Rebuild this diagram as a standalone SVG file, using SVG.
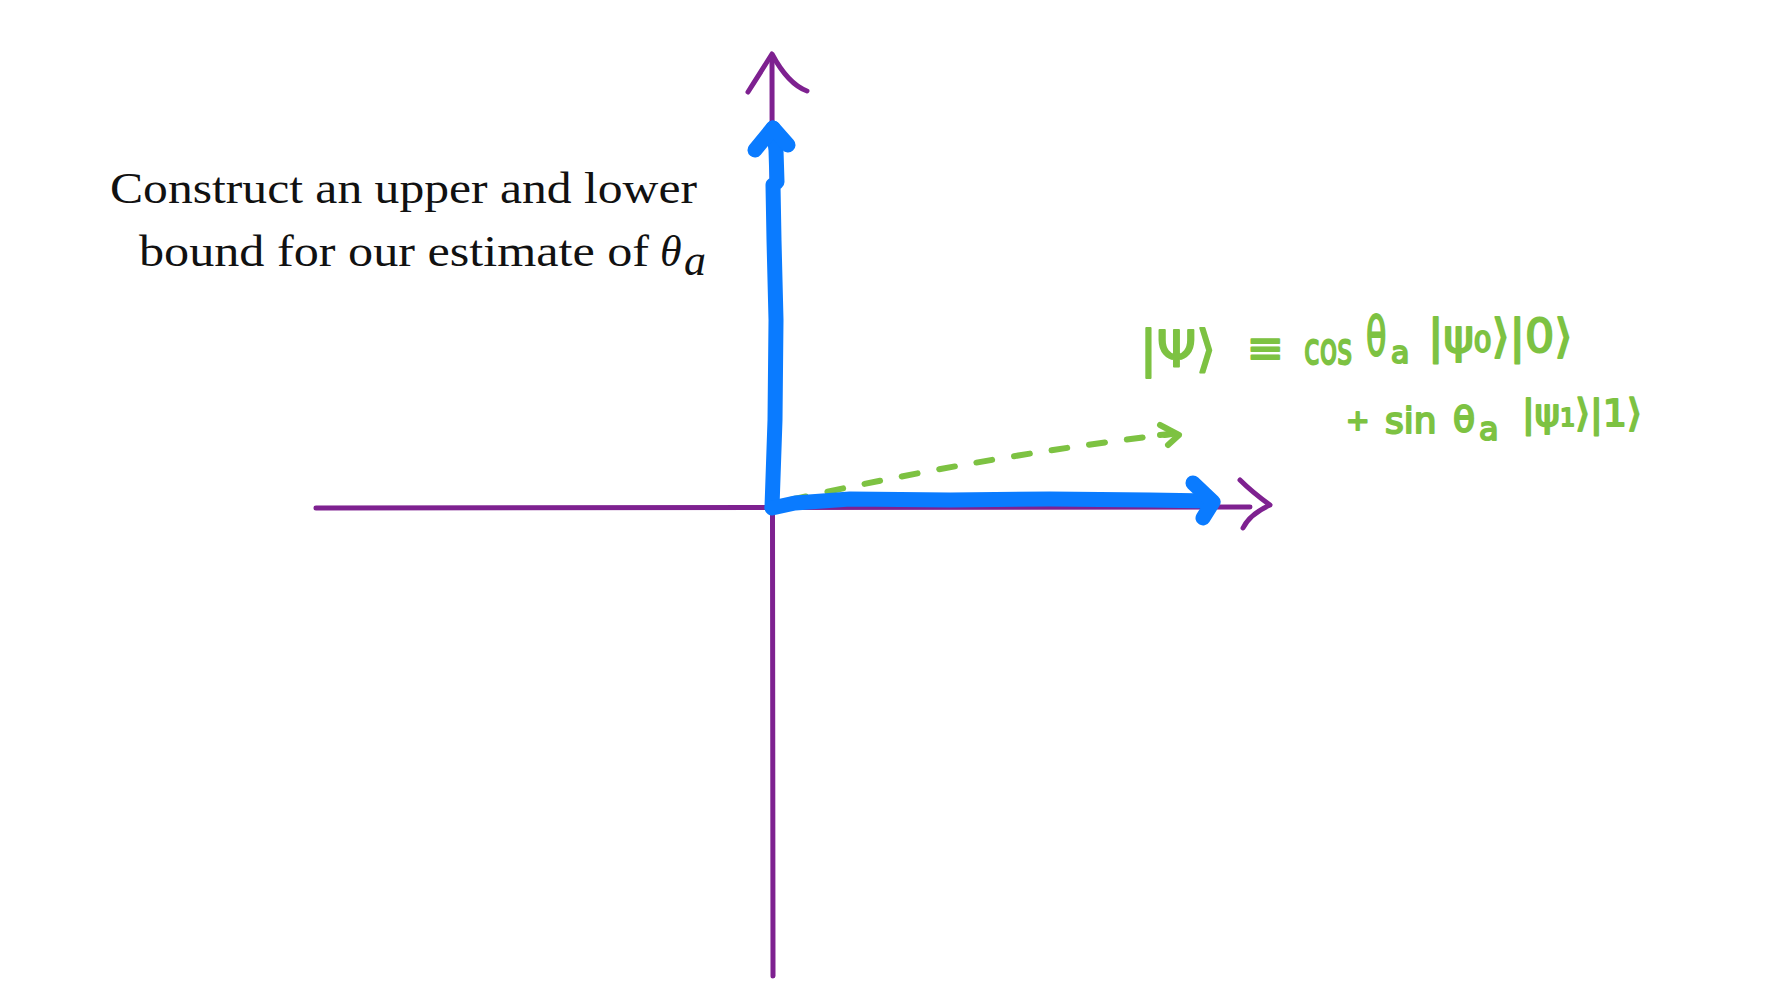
<svg xmlns="http://www.w3.org/2000/svg" width="1790" height="1000" viewBox="0 0 1790 1000">
<style>
.axis{fill:none;stroke:#7E2190;stroke-width:5;stroke-linecap:round;stroke-linejoin:round}
.blue{fill:none;stroke:#0A7BFF;stroke-width:15;stroke-linecap:round;stroke-linejoin:round}
.green{fill:none;stroke:#7DC242;stroke-width:6;stroke-linecap:round;stroke-linejoin:round}
.cap{font-family:"Liberation Serif","DejaVu Serif",serif;font-size:44px;fill:#111}
.hand{font-family:"DejaVu Sans","Noto Sans",sans-serif;fill:#7DC242;stroke:#7DC242;stroke-width:2;stroke-linejoin:round}
</style>
<rect width="1790" height="1000" fill="#ffffff"/>
<g id="connectors">
  <g id="y-axis">
    <path class="axis" d="M773,976 L772,56"/>
    <path class="axis" d="M748,92 Q762,70 772,54 Q788,84 807,91"/>
  </g>
  <g id="x-axis">
    <path class="axis" d="M316,508 L1250,507"/>
    <path class="axis" d="M1240,480 Q1252,492 1270,505 Q1250,514 1243,528"/>
  </g>
  <g id="state-vector">
    <path class="green" d="M790,500 Q990,455 1172,434" stroke-dasharray="16,22"/>
    <path class="green" d="M1160,425 L1179,435 L1168,445"/>
    <path class="green" d="M1160,435 L1170,434"/>
  </g>
  <g id="blue-vertical">
    <path class="blue" d="M772,507 L775,420 L776,320 L774,240 L773,185 L777,182 L776,150 L773,128"/>
    <path class="blue" d="M755,150 L773,128 L788,145"/>
  </g>
  <g id="blue-horizontal">
    <path class="blue" d="M772,508 L795,503 L850,499 L950,500 L1050,499 L1150,500 L1210,501"/>
    <path class="blue" d="M1193,483 L1213,502 L1203,518"/>
  </g>
</g>
<g id="caption">
  <text class="cap" x="110" y="203" textLength="587" lengthAdjust="spacingAndGlyphs">Construct an upper and lower</text>
  <text class="cap" x="139" y="266" textLength="510" lengthAdjust="spacingAndGlyphs">bound for our estimate of</text>
  <text class="cap" x="660" y="266" font-style="italic">θ</text>
  <text class="cap" x="684" y="275" font-style="italic" font-size="30">a</text>
</g>
<g id="formula">
  <text class="hand" x="1140" y="366" font-size="50">|Ψ⟩</text>
  <text class="hand" x="1247" y="363" font-size="44">≡</text>
  <text class="hand" transform="translate(1304,364) scale(0.65,1)" font-size="44">cos</text>
  <text class="hand" transform="translate(1366,355) scale(0.62,1)" font-size="54">θ</text>
  <text class="hand" x="1391" y="363" font-size="30">a</text>
  <text class="hand" x="1428" y="352" font-size="46">|ψ<tspan font-size="28">0</tspan>⟩|0⟩</text>
  <text class="hand" x="1346" y="430" font-size="28">+</text>
  <text class="hand" x="1385" y="433" font-size="36">sin</text>
  <text class="hand" x="1453" y="432" font-size="36">θ</text>
  <text class="hand" x="1479" y="440" font-size="32">a</text>
  <text class="hand" x="1522" y="426" font-size="38">|ψ<tspan font-size="24">1</tspan>⟩|1⟩</text>
</g>
</svg>
